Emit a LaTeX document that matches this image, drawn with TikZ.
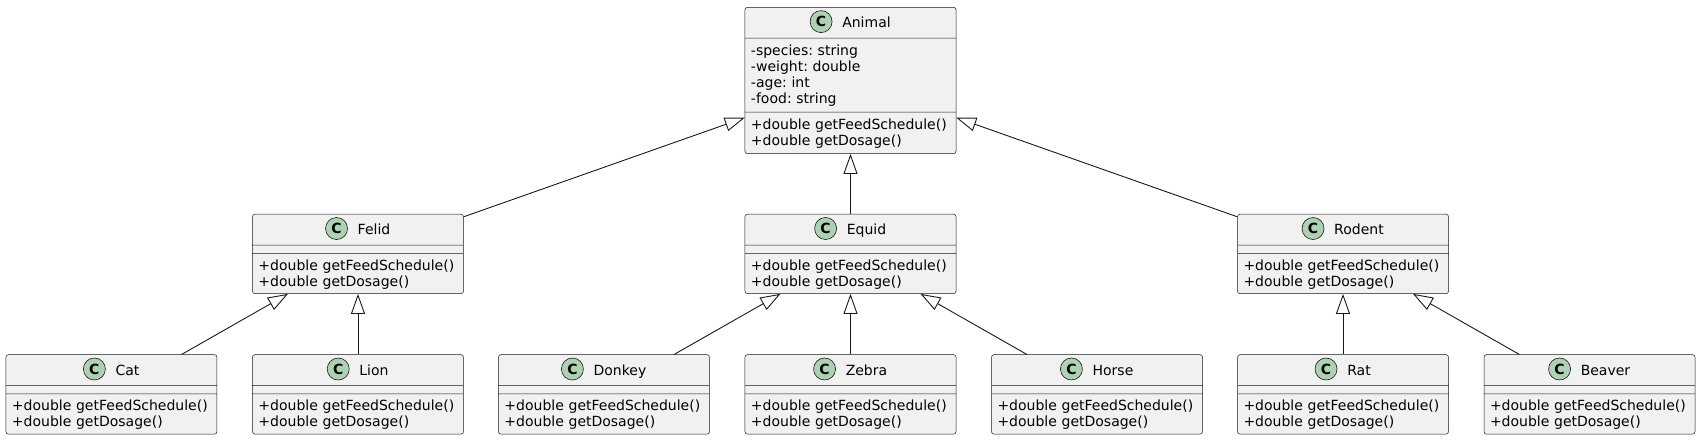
\documentclass[tikz,border=0pt]{standalone}
\usepackage{fontspec}
\setmainfont{DejaVu Sans}
\usetikzlibrary{shapes.multipart, positioning, arrows.meta}

\definecolor{umlfill}{HTML}{F1F1F1}
\definecolor{umlline}{HTML}{181818}
\definecolor{badgegreen}{HTML}{ADD1B2}

\newcommand{\mstrut}{\rule[-3.3pt]{0pt}{16pt}}
\newcommand{\headstrut}{\rule{0pt}{22.6pt}}
\newcommand{\feedops}{\mstrut+double getFeedSchedule()\\\mstrut+double getDosage()}
\frenchspacing

\begin{document}
\begin{tikzpicture}[font=\fontsize{14}{16}\selectfont]
    \tikzstyle{umlclass} = [rectangle split, rectangle split parts=3, draw=umlline, fill=umlfill, line width=0.5pt, rounded corners=2.5pt, text width=199pt, align=left, inner xsep=6pt, inner ysep=3.9pt]
    \tikzstyle{classname} = [inner sep=0pt, text height=10.2pt, text depth=0pt]
    \tikzstyle{badge} = [circle, draw=umlline, fill=badgegreen, line width=0.6pt, minimum size=22pt, inner sep=0pt, font=\fontsize{14}{14}\selectfont\bfseries]
    \tikzstyle{inherits} = [draw=umlline, line width=0.9pt, -{Triangle[open, length=20pt, width=14pt]}]

    \useasboundingbox (-850.5pt,7pt) rectangle (849.5pt,-433pt);

    % base class
    \node (animal) [umlclass, anchor=north] at (0,0) {\headstrut
        \nodepart{two}\mstrut-species: string\\\mstrut-weight: double\\\mstrut-age: int\\\mstrut-food: string\rule[-5pt]{0pt}{0pt}
        \nodepart{three}\feedops\rule[-4.5pt]{0pt}{0pt}};

    % families
    \node (equid) [umlclass, below=60pt of animal] {\headstrut\nodepart{two}\nodepart{three}\feedops};
    \node (felid) [umlclass, left=281pt of equid] {\headstrut\nodepart{two}\nodepart{three}\feedops};
    \node (rodent) [umlclass, right=281pt of equid] {\headstrut\nodepart{two}\nodepart{three}\feedops};

    % species
    \node (lion) [umlclass, below=60.5pt of felid] {\headstrut\nodepart{two}\nodepart{three}\feedops};
    \node (cat) [umlclass, left=35pt of lion] {\headstrut\nodepart{two}\nodepart{three}\feedops};
    \node (zebra) [umlclass, below=60.5pt of equid] {\headstrut\nodepart{two}\nodepart{three}\feedops};
    \node (donkey) [umlclass, left=35pt of zebra] {\headstrut\nodepart{two}\nodepart{three}\feedops};
    \node (horse) [umlclass, right=35pt of zebra] {\headstrut\nodepart{two}\nodepart{three}\feedops};
    \node (rat) [umlclass, below=60.5pt of rodent] {\headstrut\nodepart{two}\nodepart{three}\feedops};
    \node (beaver) [umlclass, right=35pt of rat] {\headstrut\nodepart{two}\nodepart{three}\feedops};

    % class names with the C badge
    \foreach \cls/\ctitle in {animal/Animal, felid/Felid, equid/Equid, rodent/Rodent, cat/Cat, lion/Lion, donkey/Donkey, zebra/Zebra, horse/Horse, rat/Rat, beaver/Beaver} {
        \node (\cls-name) [classname] at ([xshift=16pt, yshift=-15.6pt]\cls.north) {\ctitle};
        \node (\cls-badge) [badge, left=9.7pt of \cls-name, yshift=1pt] {C};
    }

    \draw [inherits] (felid) -- (animal);
    \draw [inherits] (equid) -- (animal);
    \draw [inherits] (rodent) -- (animal);
    \draw [inherits] (cat) -- (felid);
    \draw [inherits] (lion) -- (felid);
    \draw [inherits] (donkey) -- (equid);
    \draw [inherits] (zebra) -- (equid);
    \draw [inherits] (horse) -- (equid);
    \draw [inherits] (rat) -- (rodent);
    \draw [inherits] (beaver) -- (rodent);

\end{tikzpicture}
\end{document}
